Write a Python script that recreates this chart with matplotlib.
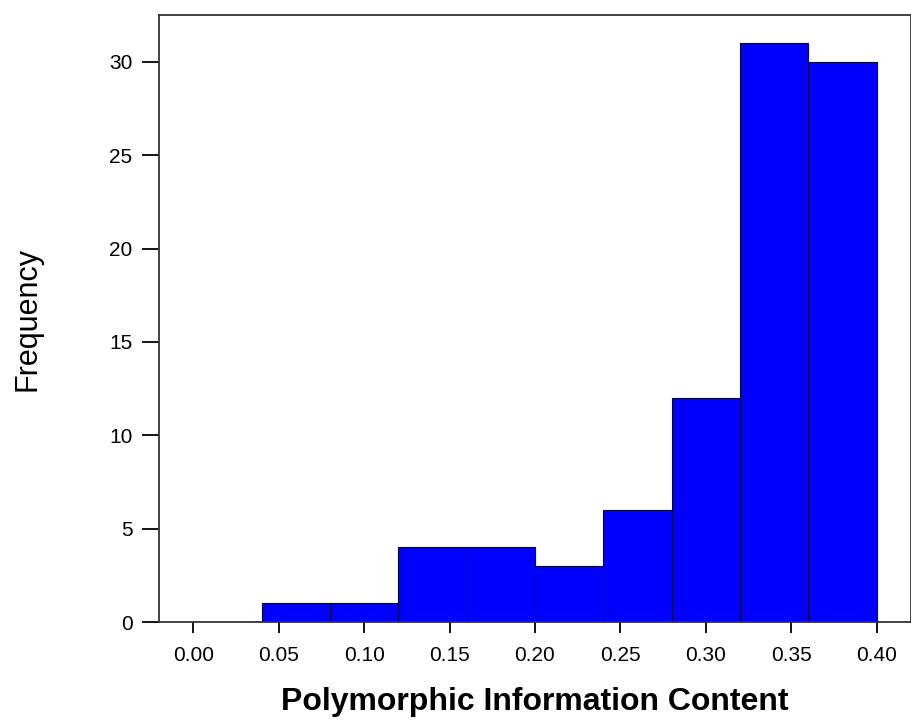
import matplotlib
matplotlib.use("Agg")
import matplotlib.pyplot as plt
import numpy as np

plt.rcParams["font.family"] = ["Liberation Sans", "DejaVu Sans"]

# histogram bin edges and counts
bin_edges = [0.04, 0.08, 0.12, 0.16, 0.20, 0.24, 0.28, 0.32, 0.36, 0.40]
counts = [1, 1, 4, 4, 3, 6, 12, 31, 30]
x_ticks = [0.00, 0.05, 0.10, 0.15, 0.20, 0.25, 0.30, 0.35, 0.40]
y_ticks = [0, 5, 10, 15, 20, 25, 30]

fig = plt.figure(figsize=(9.11, 7.22), dpi=100)
ax = fig.add_axes([0.1745, 0.1385, 0.8255, 0.8405])

edges = np.array(bin_edges)
ax.bar(edges[:-1], counts, width=np.diff(edges), align="edge",
       color="#0000ff", edgecolor="#000050", linewidth=0.8)

ax.set_xlim(-0.02, 0.42)
ax.set_ylim(0, 32.5)
ax.set_xticks(x_ticks)
ax.set_xticklabels([f"{t:.2f}" for t in x_ticks])
ax.set_yticks(y_ticks)

for side in ["left", "top", "bottom", "right"]:
    ax.spines[side].set_linewidth(1.3)
    ax.spines[side].set_color("#333333")

ax.tick_params(axis="y", length=12, width=1.3, labelsize=15, pad=7)
ax.tick_params(axis="x", length=8, width=1.3, labelsize=15, pad=9)

ax.set_xlabel("Polymorphic Information Content", fontsize=23, fontweight="bold", labelpad=16)
ax.set_ylabel("Frequency", fontsize=22, labelpad=48)

fig.savefig("out.png", dpi=100)
